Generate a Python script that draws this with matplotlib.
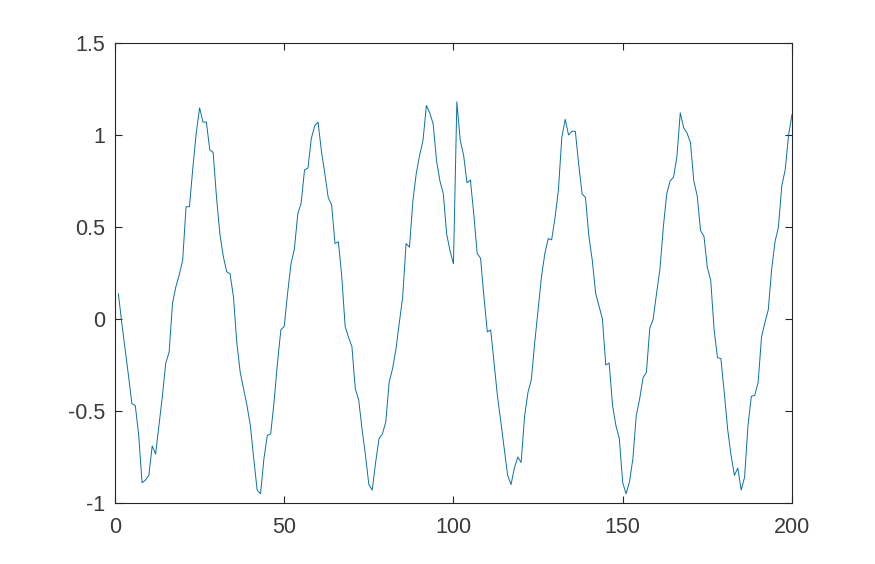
import matplotlib
matplotlib.use("Agg")
import matplotlib.pyplot as plt

plt.rcParams["font.family"] = ["Liberation Sans", "DejaVu Sans"]
plt.rcParams["axes.unicode_minus"] = False

x = list(range(1, 201))
y = [
    0.137, -0.02, -0.165, -0.31, -0.46, -0.47, -0.63, -0.89, -0.876, -0.85,
    -0.69, -0.735, -0.58, -0.42, -0.24, -0.18, 0.086, 0.176, 0.24, 0.32,
    0.61, 0.61, 0.82, 1.01, 1.147, 1.07, 1.07, 0.92, 0.905, 0.66,
    0.46, 0.34, 0.257, 0.245, 0.12, -0.13, -0.29, -0.38, -0.47, -0.58,
    -0.76, -0.93, -0.95, -0.76, -0.633, -0.625, -0.45, -0.24, -0.06, -0.04,
    0.14, 0.30, 0.38, 0.57, 0.63, 0.81, 0.82, 0.98, 1.05, 1.07,
    0.91, 0.79, 0.66, 0.62, 0.41, 0.42, 0.23, -0.04, -0.10, -0.15,
    -0.38, -0.44, -0.60, -0.74, -0.90, -0.93, -0.78, -0.65, -0.625, -0.56,
    -0.345, -0.27, -0.165, -0.02, 0.12, 0.41, 0.39, 0.64, 0.79, 0.89,
    0.97, 1.16, 1.12, 1.06, 0.86, 0.75, 0.68, 0.46, 0.37, 0.30,
    1.18, 0.97, 0.89, 0.74, 0.755, 0.57, 0.356, 0.33, 0.12, -0.07,
    -0.06, -0.24, -0.42, -0.56, -0.705, -0.85, -0.90, -0.81, -0.75, -0.78,
    -0.53, -0.40, -0.33, -0.13, 0.05, 0.23, 0.356, 0.437, 0.43, 0.55,
    0.70, 0.985, 1.085, 1.0, 1.02, 1.02, 0.84, 0.68, 0.66, 0.45,
    0.32, 0.14, 0.07, 0.0, -0.25, -0.24, -0.47, -0.58, -0.65, -0.89,
    -0.95, -0.885, -0.76, -0.525, -0.435, -0.32, -0.29, -0.05, 0.0, 0.14,
    0.27, 0.50, 0.68, 0.75, 0.77, 0.88, 1.12, 1.04, 1.01, 0.96,
    0.75, 0.67, 0.48, 0.45, 0.28, 0.21, -0.06, -0.21, -0.215, -0.40,
    -0.60, -0.74, -0.85, -0.81, -0.93, -0.86, -0.58, -0.42, -0.415, -0.345,
    -0.10, -0.02, 0.05, 0.27, 0.42, 0.50, 0.725, 0.81, 1.0, 1.11,
]
xticks = [0, 50, 100, 150, 200]
yticks = [-1, -0.5, 0, 0.5, 1, 1.5]
ytick_labels = ["-1", "-0.5", "0", "0.5", "1", "1.5"]

fig = plt.figure(figsize=(8.75, 5.64), dpi=100)
ax = fig.add_axes([0.1314, 0.1082, 0.7737, 0.8156])
ax.plot(x, y, color="#0a6fa8", linewidth=0.7)

ax.set_xlim(0, 200)
ax.set_ylim(-1, 1.5)
ax.set_xticks(xticks)
ax.set_xticklabels([str(t) for t in xticks])
ax.set_yticks(yticks)
ax.set_yticklabels(ytick_labels)

for s in ax.spines.values():
    s.set_color("#262626")
    s.set_linewidth(0.8)
ax.tick_params(direction="in", top=True, right=True, length=5, width=0.8,
               colors="#262626", labelsize=15.5)
ax.tick_params(axis="y", pad=7)
ax.tick_params(axis="x", pad=10)
for lbl in ax.get_xticklabels() + ax.get_yticklabels():
    lbl.set_color("#3a3a3a")

fig.savefig("out.png", dpi=100)
